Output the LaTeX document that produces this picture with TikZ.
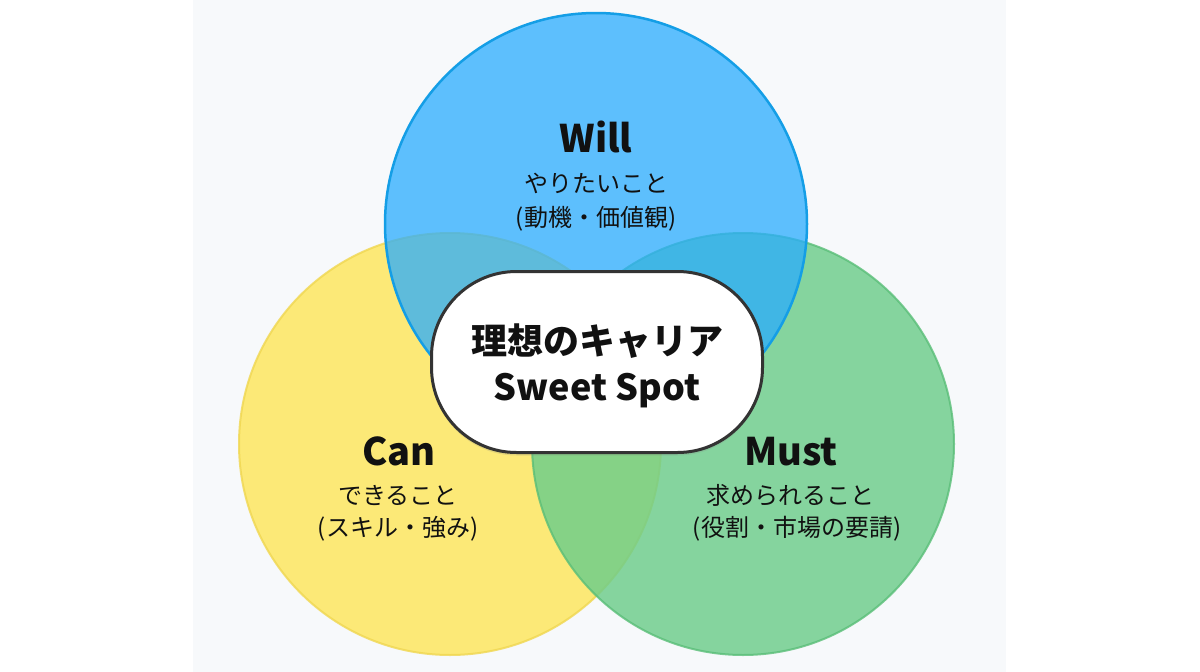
\documentclass[tikz,border=0pt]{standalone}
\usepackage{fontspec}
\setmainfont{Noto Sans CJK JP}
\usetikzlibrary{shadows}
\definecolor{panelbg}{RGB}{247,249,251}
\definecolor{willfill}{RGB}{40,172,255}
\definecolor{willline}{RGB}{20,158,230}
\definecolor{canfill}{RGB}{253,232,105}
\definecolor{canline}{RGB}{240,215,80}
\definecolor{mustfill}{RGB}{108,205,138}
\definecolor{mustline}{RGB}{90,190,120}
\definecolor{inktext}{RGB}{17,17,17}
\definecolor{pillline}{RGB}{51,51,51}
\begin{document}
\begin{tikzpicture}[x=1pt,y=-1pt,
    title/.style={anchor=base,text=inktext,font=\fontsize{38}{42}\selectfont\bfseries},
    sub/.style={anchor=base,text=inktext,font=\fontsize{24}{28}\selectfont}]
        \useasboundingbox (0,0) rectangle (1200,672);
        %% Background
        \fill[white] (0,0) rectangle (1200,672);
        \fill[panelbg] (193,0) rectangle (1006,672);
        %% Circles
        \draw[canline,line width=2pt,fill=canfill,fill opacity=0.9,draw opacity=0.8] (450,444) circle[radius=211];
        \draw[mustline,line width=2pt,fill=mustfill,fill opacity=0.82,draw opacity=0.8] (743,444) circle[radius=211];
        \draw[willline,line width=2.5pt,fill=willfill,fill opacity=0.74] (596,224) circle[radius=211];
        %% Labels
        \node[title] (will) at (596,152) {Will};
        \node[sub] (willwhat) at (596,192) {やりたいこと};
        \node[sub] (willwhy) at (596,226) {(動機・価値観)};
        \node[title] (can) at (399,465) {Can};
        \node[sub] (canwhat) at (398,504) {できること};
        \node[sub] (canwhy) at (398,536) {(スキル・強み)};
        \node[title] (must) at (791,465) {Must};
        \node[sub] (mustwhat) at (790,504) {求められること};
        \node[sub] (mustwhy) at (797,536) {(役割・市場の要請)};
        %% Sweet spot
        \node[draw=pillline,line width=3pt,fill=white,rounded corners=85pt,
              minimum width=331pt,minimum height=181pt,text=inktext,
              drop shadow={opacity=0.2,shadow xshift=0pt,shadow yshift=-3pt}] (spot) at (597,362) {};
        \node[align=center,text=inktext,font=\fontsize{36}{49}\selectfont\bfseries] (spottxt) at (597,366)
              {\raisebox{-3pt}{理想のキャリア}\\Sweet Spot};
    \end{tikzpicture}
\end{document}
